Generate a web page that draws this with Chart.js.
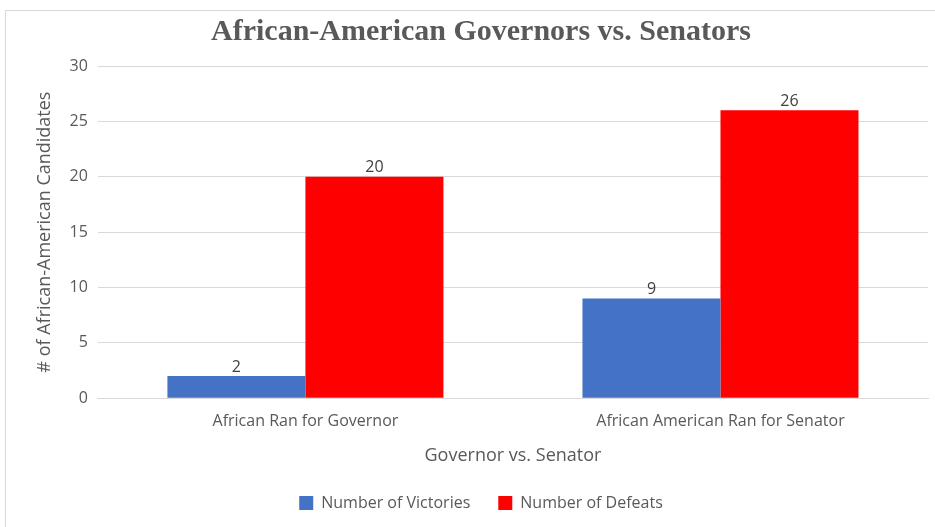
<!DOCTYPE html>
<html>
<head>
<meta charset="utf-8">
<script src="https://cdn.jsdelivr.net/npm/chart.js@4.4.0/dist/chart.umd.min.js"></script>
<style>
  html, body { margin: 0; padding: 0; background: #fff; }
  #wrap { position: relative; width: 935px; height: 527px; }
  #frame { position: absolute; left: 5px; top: 10px; width: 940px; height: 530px; border: 1px solid #d9d9d9; box-sizing: border-box; }
  canvas { position: absolute; left: 0; top: 0; }
</style>
</head>
<body>
<div id="wrap">
  <div id="frame"></div>
  <canvas id="chart" width="935" height="527"></canvas>
</div>
<script>
  'use strict';

  var categories = ['African Ran for Governor', 'African American Ran for Senator'];
  var victories = [2, 9];
  var defeats = [20, 26];
  var yTicks = [0, 5, 10, 15, 20, 25, 30];

  var textColor = '#595959';
  var sans = "'Open Sans', 'Noto Sans', sans-serif";

  var valueLabels = {
    id: 'valueLabels',
    afterDatasetsDraw: function (chart) {
      var ctx = chart.ctx;
      ctx.save();
      ctx.font = '16px ' + sans;
      ctx.fillStyle = '#404040';
      ctx.textAlign = 'center';
      ctx.textBaseline = 'bottom';
      chart.data.datasets.forEach(function (ds, i) {
        chart.getDatasetMeta(i).data.forEach(function (bar, j) {
          ctx.fillText(String(ds.data[j]), bar.x, bar.y - 1);
        });
      });
      ctx.restore();
    }
  };

  new Chart(document.getElementById('chart'), {
    type: 'bar',
    data: {
      labels: categories,
      datasets: [{
        label: 'Number of Victories',
        data: victories,
        backgroundColor: '#4472c4',
        categoryPercentage: 0.665,
        barPercentage: 1
      }, {
        label: 'Number of Defeats',
        data: defeats,
        backgroundColor: '#ff0000',
        categoryPercentage: 0.665,
        barPercentage: 1
      }]
    },
    options: {
      responsive: false,
      animation: false,
      layout: { padding: { left: 34, right: 7, top: 14, bottom: 6 } },
      plugins: {
        title: {
          display: true,
          text: 'African-American Governors vs. Senators',
          color: '#595959',
          font: { family: "'Liberation Serif', 'Times New Roman', serif", size: 30, weight: 'bold' },
          padding: { top: 0, bottom: 16 }
        },
        legend: {
          position: 'bottom',
          labels: {
            color: textColor,
            font: { family: sans, size: 16 },
            boxWidth: 14,
            boxHeight: 14,
            padding: 28
          }
        },
        tooltip: { enabled: false }
      },
      scales: {
        x: {
          grid: { display: false },
          border: { color: '#d9d9d9' },
          ticks: { color: textColor, font: { family: sans, size: 16 }, padding: 6 },
          title: {
            display: true,
            text: 'Governor vs. Senator',
            color: textColor,
            font: { family: sans, size: 18 },
            padding: { top: 8, bottom: 0 }
          }
        },
        y: {
          min: 0,
          max: 30,
          afterBuildTicks: function (axis) {
            axis.ticks = yTicks.map(function (v) { return { value: v }; });
          },
          grid: { color: '#d9d9d9', drawTicks: false },
          border: { display: false },
          ticks: { color: textColor, font: { family: sans, size: 16 }, padding: 10 },
          title: {
            display: true,
            text: '# of African-American Candidates',
            color: textColor,
            font: { family: sans, size: 18 },
            padding: { top: 0, bottom: 4 }
          }
        }
      }
    },
    plugins: [valueLabels]
  });
</script>
</body>
</html>
